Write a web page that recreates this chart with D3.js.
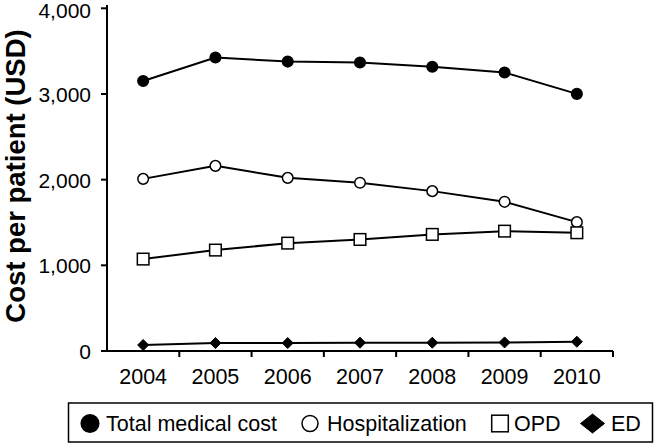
<!DOCTYPE html>
<html><head><meta charset="utf-8">
<script src="https://cdn.jsdelivr.net/npm/d3@7"></script>
<style>body{margin:0;background:#fff}svg{display:block}</style>
</head><body><svg id="c" width="654" height="444"></svg>
<script>
const years = ["2004","2005","2006","2007","2008","2009","2010"];
const totalCost = [3152, 3425, 3378, 3367, 3318, 3250, 3001];
const hospitalization = [2009, 2161, 2021, 1963, 1866, 1741, 1504];
const opd = [1073, 1178, 1259, 1302, 1361, 1399, 1380];
const ed = [70, 93, 93, 97, 97, 100, 108];
const yTicks = [0, 1000, 2000, 3000, 4000];
const seriesNames = ["Total medical cost", "Hospitalization", "OPD", "ED"];

const series = [
  {name: seriesNames[0], values: totalCost, shape: "circle", fill: "#000"},
  {name: seriesNames[1], values: hospitalization, shape: "circle", fill: "#fff"},
  {name: seriesNames[2], values: opd, shape: "square", fill: "#fff"},
  {name: seriesNames[3], values: ed, shape: "diamond", fill: "#000"}
];

const svg = d3.select("#c");
const font = "Liberation Sans, Arial, sans-serif";
const x = d3.scaleBand().domain(years).range([107, 613]);
const y = d3.scaleLinear().domain([0, 4000]).range([351, 8.3]);

// axes
const xAxis = svg.append("g").attr("transform", "translate(0,351)");
xAxis.append("line").attr("x1", 106).attr("x2", 613).attr("stroke", "#000").attr("stroke-width", 2);
const bounds = years.map(d => x(d)).concat([x.range()[1]]);
xAxis.selectAll(".t").data(bounds.slice(1)).enter().append("line")
  .attr("x1", d => d).attr("x2", d => d).attr("y1", 0).attr("y2", 6)
  .attr("stroke", "#000").attr("stroke-width", 2);
xAxis.selectAll("text").data(years).enter().append("text")
  .attr("x", d => x(d) + x.bandwidth() / 2).attr("y", 33)
  .attr("text-anchor", "middle").attr("font-family", font).attr("font-size", 21.5).text(d => d);

const yAxis = svg.append("g");
yAxis.append("line").attr("x1", 107).attr("x2", 107).attr("y1", 5).attr("y2", 352).attr("stroke", "#000").attr("stroke-width", 2);
yAxis.selectAll(".t").data(yTicks).enter().append("line")
  .attr("x1", 101).attr("x2", 107).attr("y1", d => y(d)).attr("y2", d => y(d))
  .attr("stroke", "#000").attr("stroke-width", 2);
yAxis.selectAll("text").data(yTicks).enter().append("text")
  .attr("x", 91).attr("y", d => Math.max(y(d) + 8, 18))
  .attr("text-anchor", "end").attr("font-family", font).attr("font-size", 21)
  .text(d => d3.format(",")(d));

svg.append("text").attr("transform", "translate(25,176) rotate(-90)")
  .attr("text-anchor", "middle").attr("font-family", font).attr("font-size", 27.5).attr("font-weight", "bold")
  .text("Cost per patient (USD)");

function marker(g, shape, fill, size, sh) {
  if (shape === "circle") {
    g.append("circle").attr("r", size).attr("fill", fill).attr("stroke", "#000").attr("stroke-width", 1.5);
  } else if (shape === "square") {
    g.append("rect").attr("x", -size).attr("y", -size).attr("width", 2 * size).attr("height", 2 * size)
      .attr("fill", fill).attr("stroke", "#000").attr("stroke-width", 1.5);
  } else {
    const h = sh || size;
    g.append("path").attr("d", `M0,${-h}L${size},0L0,${h}L${-size},0Z`).attr("fill", fill).attr("stroke", "#000").attr("stroke-width", 1);
  }
}

const cx = i => x(years[i]) + x.bandwidth() / 2;
const line = d3.line().x((d, i) => cx(i)).y(d => y(d));
const sizes = {circle: 5.3, square: 5.8, diamond: 5.5};
series.forEach(s => {
  svg.append("path").attr("d", line(s.values)).attr("fill", "none").attr("stroke", "#000").attr("stroke-width", 2);
});
series.forEach(s => {
  s.values.forEach((v, i) => {
    const g = svg.append("g").attr("transform", `translate(${cx(i)},${y(v)})`);
    marker(g, s.shape, s.fill, sizes[s.shape]);
  });
});

// legend
const lg = svg.append("g");
lg.append("rect").attr("x", 68.5).attr("y", 403).attr("width", 584).attr("height", 39)
  .attr("fill", "#fff").attr("stroke", "#000").attr("stroke-width", 1.5);
const legendItems = [
  {mx: 90, tx: 106, shape: "circle", fill: "#000", size: 8.8},
  {mx: 310, tx: 327, shape: "circle", fill: "#fff", size: 8},
  {mx: 500, tx: 514, shape: "square", fill: "#fff", size: 8.3},
  {mx: 592.5, tx: 611, shape: "diamond", fill: "#000", size: 12, sh: 9.5}
];
legendItems.forEach((it, i) => {
  const g = lg.append("g").attr("transform", `translate(${it.mx},423.5)`);
  marker(g, it.shape, it.fill, it.size, it.sh);
  lg.append("text").attr("x", it.tx).attr("y", 431).attr("font-family", font).attr("font-size", 21.5).text(seriesNames[i]);
});
</script></body></html>
